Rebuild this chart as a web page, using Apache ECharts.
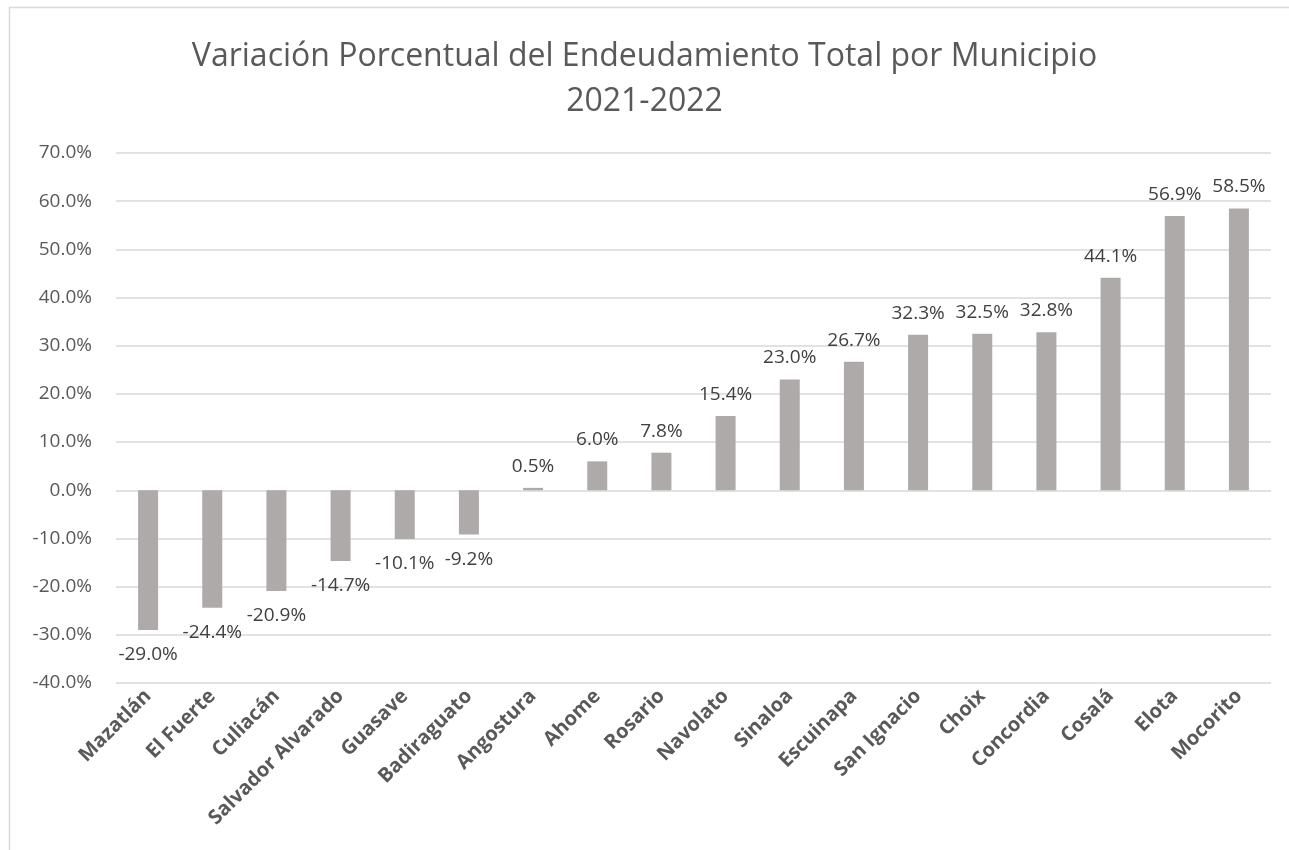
<!DOCTYPE html>
<html>
<head>
<meta charset="utf-8">
<script src="https://cdn.jsdelivr.net/npm/echarts@6/dist/echarts.min.js"></script>
<style>
  html, body { margin: 0; padding: 0; background: #fff; }
  #chart { width: 1289px; height: 850px; }
</style>
</head>
<body>
<div id="chart"></div>
<script>
var municipios = ['Mazatlán', 'El Fuerte', 'Culiacán', 'Salvador Alvarado', 'Guasave', 'Badiraguato',
    'Angostura', 'Ahome', 'Rosario', 'Navolato', 'Sinaloa', 'Escuinapa', 'San Ignacio', 'Choix',
    'Concordia', 'Cosalá', 'Elota', 'Mocorito'];
var variacion = [-29.0, -24.4, -20.9, -14.7, -10.1, -9.2, 0.5, 6.0, 7.8, 15.4, 23.0, 26.7,
    32.3, 32.5, 32.8, 44.1, 56.9, 58.5];

var fontFam = '"Open Sans", "Noto Sans", sans-serif';

// los negativos llevan la etiqueta debajo de la barra
var barData = variacion.map(function(v){
    return {
        value: v,
        label: { position: v < 0 ? 'bottom' : 'top', distance: v < 0 ? 15 : 12 }
    };
});

var chart = echarts.init(document.getElementById('chart'));
chart.setOption({
    animation: false,
    backgroundColor: '#fff',
    graphic: [{
        type: 'rect',
        shape: { x: 9.5, y: 7.5, width: 1400, height: 1000 },
        style: { fill: 'none', stroke: '#d9d9d9', lineWidth: 1.5 },
        silent: true
    }],
    title: {
        text: 'Variación Porcentual del Endeudamiento Total por Municipio\n2021-2022',
        left: 'center',
        top: 29,
        textStyle: {
            fontFamily: fontFam,
            fontSize: 32,
            fontWeight: 'normal',
            color: '#595959',
            lineHeight: 45
        }
    },
    grid: { left: 116, right: 18, top: 153, bottom: 167, containLabel: false },
    xAxis: {
        type: 'category',
        data: municipios,
        axisLine: { show: false, onZero: false },
        axisTick: { show: false },
        axisLabel: {
            rotate: 45,
            interval: 0,
            margin: 10,
            fontFamily: fontFam,
            fontSize: 20,
            fontWeight: 'bold',
            color: '#595959'
        }
    },
    yAxis: {
        type: 'value',
        min: -40,
        max: 70,
        interval: 10,
        axisLine: { show: false },
        axisTick: { show: false },
        splitLine: { lineStyle: { color: '#d9d9d9', width: 1.5 } },
        axisLabel: {
            margin: 24,
            fontFamily: fontFam,
            fontSize: 19,
            color: '#595959',
            formatter: function(v){ return v.toFixed(1) + '%'; }
        }
    },
    series: [{
        type: 'bar',
        data: barData,
        barWidth: 20,
        itemStyle: { color: '#aeaaaa' },
        label: {
            show: true,
            fontFamily: fontFam,
            fontSize: 19,
            color: '#404040',
            formatter: function(p){ return p.value.toFixed(1) + '%'; }
        }
    }]
});
</script>
</body>
</html>
